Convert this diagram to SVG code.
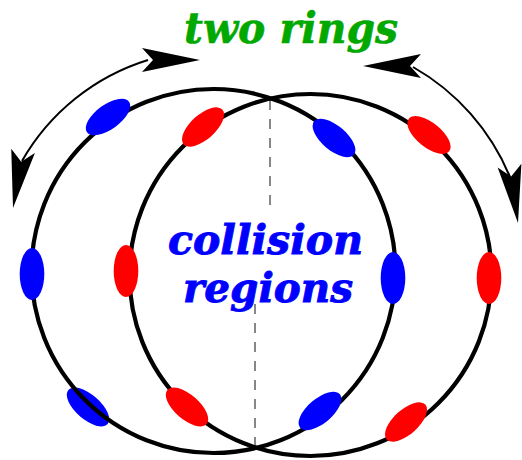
<svg xmlns="http://www.w3.org/2000/svg" xmlns:xlink="http://www.w3.org/1999/xlink" width="522" height="460" viewBox="0 0 522 460">
<style>
.ring{fill:none;stroke:#000;stroke-width:4.2}
.blue{fill:#0000ff}
.red{fill:#ff0000}
.arc{fill:none;stroke:#000;stroke-width:2}
.dash{stroke:#555;stroke-width:1.4;stroke-dasharray:10 9}
.lbl{font-family:"DejaVu Serif","Liberation Serif",serif;font-weight:bold;font-style:italic}
</style>
<defs>
<path id="ah" d="M0,0 L-58,-12 L-47,0 L-58,12 Z" fill="#000"/>
<ellipse id="bead" cx="0" cy="0" rx="26" ry="12.3"/>
</defs>
<rect width="522" height="460" fill="#fff"/>
<g id="dividers">
<line class="dash" x1="270" y1="100" x2="270" y2="212"/>
<line class="dash" x1="255" y1="304" x2="255" y2="448"/>
</g>
<use href="#bead" class="blue" transform="translate(88,407) rotate(41)"/>
<g id="ring-left">
<circle class="ring" cx="213.5" cy="271" r="182"/>
<use href="#bead" class="blue" transform="translate(108,117) rotate(-36)"/>
<use href="#bead" class="blue" transform="translate(32,274) rotate(90)"/>
<use href="#bead" class="blue" transform="translate(320,411) rotate(-40)"/>
<use href="#bead" class="blue" transform="translate(393,278) rotate(90)"/>
<use href="#bead" class="blue" transform="translate(334,138) rotate(40)"/>
</g>
<g id="ring-right">
<circle class="ring" cx="310.5" cy="275" r="181"/>
<use href="#bead" class="red" transform="translate(203,127) rotate(-42)"/>
<use href="#bead" class="red" transform="translate(126,271) rotate(90)"/>
<use href="#bead" class="red" transform="translate(187,407) rotate(41)"/>
<use href="#bead" class="red" transform="translate(406,422) rotate(-42)"/>
<use href="#bead" class="red" transform="translate(489,278) rotate(90)"/>
<use href="#bead" class="red" transform="translate(429,135) rotate(39)"/>
</g>
<g id="connectors">
<path class="arc" d="M22,161 A220,220 0 0,1 148,60"/>
<use href="#ah" transform="translate(200,60)"/>
<use href="#ah" transform="translate(13,208) rotate(100)"/>
<path class="arc" d="M413,67 A225,225 0 0,1 510,177"/>
<use href="#ah" transform="translate(363,66) rotate(180)"/>
<use href="#ah" transform="translate(518,223) rotate(81.6)"/>
</g>
<g id="title">
<text class="lbl" x="184" y="43" font-size="43" fill="#00a800" stroke="#00a800" stroke-width="0.6" textLength="214" lengthAdjust="spacingAndGlyphs">two rings</text>
</g>
<g id="collision-label">
<text class="lbl" x="168" y="254" font-size="41" fill="#0000ff" stroke="#0000ff" stroke-width="0.9" textLength="195" lengthAdjust="spacingAndGlyphs">collision</text>
<text class="lbl" x="183" y="302" font-size="41" fill="#0000ff" stroke="#0000ff" stroke-width="0.9" textLength="170" lengthAdjust="spacingAndGlyphs">regions</text>
</g>
</svg>
